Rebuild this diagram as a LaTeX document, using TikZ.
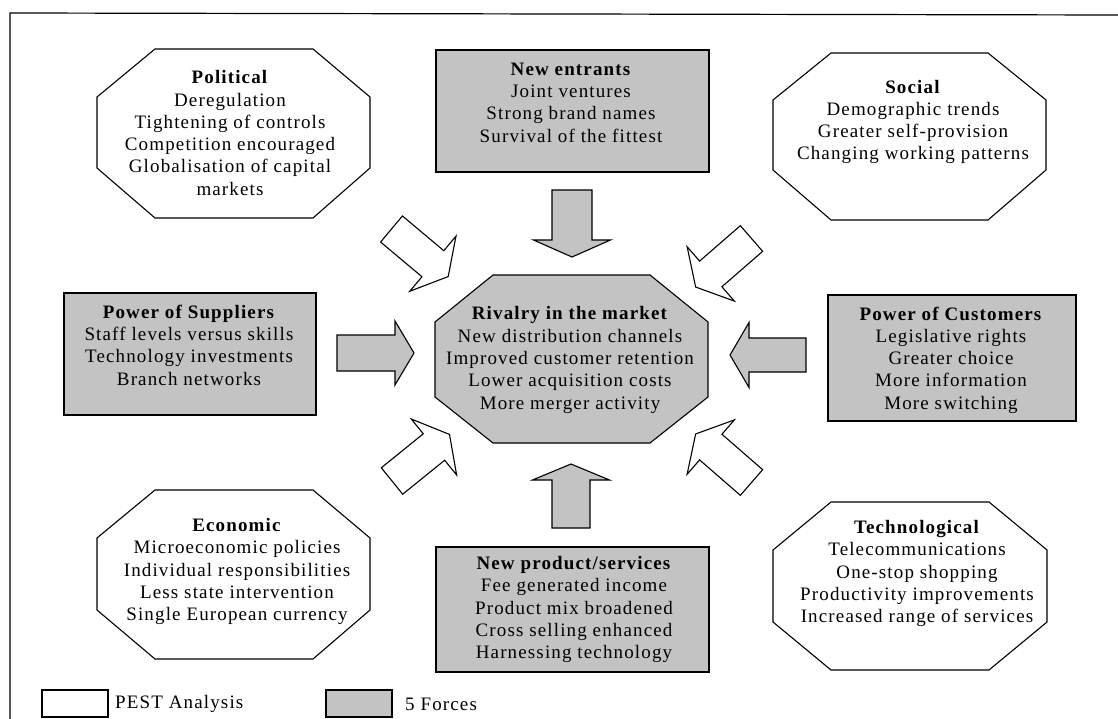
\documentclass[tikz,border=0pt]{standalone}
\usepackage{fontspec}
\setmainfont{Liberation Serif}[LetterSpace=6]
\definecolor{forcegray}{RGB}{195,195,195}
\tikzset{
  outline/.style={draw=black, line width=1.1pt, line join=miter},
  pest/.style={outline, fill=white},
  force/.style={outline, fill=forcegray},
  txt/.style={align=center, inner sep=0pt, font=\fontsize{19}{22.3}\selectfont},
  boxnode/.style={rectangle, inner sep=0pt},
}
\newcommand\barrow[7]{%
  \draw[#1,shift={(#2)},rotate=#3] (0,-#5) -- (#4,-#5) -- (#4,-#6) -- ({#4+#7},0) -- (#4,#6) -- (#4,#5) -- (0,#5) -- cycle;}
\begin{document}
\begin{tikzpicture}[x=1pt,y=-1pt]
\useasboundingbox (0,0) rectangle (1118,719);
% frame
\coordinate (fTR) at (1118,15);
\coordinate (fTL) at (10,13);
\coordinate (fBL) at (10,719);
\draw[line width=1.2pt] (fTR) -- (fTL) -- (fBL);

% PEST octagons
\draw[pest] (155,49) -- (313,49) -- (370,97) -- (370,168) -- (313,218) -- (155,218) -- (97,168) -- (97,97) -- cycle;
\draw[pest] (831,53) -- (988,53) -- (1046,100) -- (1046,170) -- (988,220) -- (831,220) -- (773,170) -- (773,100) -- cycle;
\draw[pest] (155,490) -- (313,490) -- (370,538) -- (370,610) -- (313,659) -- (155,659) -- (97,610) -- (97,538) -- cycle;
\draw[pest] (831,502) -- (989,502) -- (1047,550) -- (1047,622) -- (989,670) -- (831,670) -- (773,622) -- (773,550) -- cycle;
% central octagon
\draw[force] (493,275) -- (650,275) -- (708,322) -- (708,397) -- (650,443) -- (493,443) -- (435,397) -- (435,322) -- cycle;

% 5 forces boxes
\node[force, boxnode, minimum width=273, minimum height=122] (newentbox) at (572.5,111) {};
\node[force, boxnode, minimum width=252, minimum height=122] (supbox) at (190,354) {};
\node[force, boxnode, minimum width=248, minimum height=126] (custbox) at (952,358) {};
\node[force, boxnode, minimum width=273, minimum height=125] (prodbox) at (572.5,609.5) {};

% texts
\node[txt] (political) at (230,133) {\textbf{Political}\\Deregulation\\Tightening of controls\\Competition encouraged\\Globalisation of capital\\markets};
\node[txt] (newent) at (571,102.5) {\textbf{New entrants}\\Joint ventures\\Strong brand names\\Survival of the fittest};
\node[txt] (social) at (913,122) {\textbf{Social}\\Demographic trends\\Greater self-provision\\Changing working patterns};
\node[txt] (suppliers) at (189,345) {\textbf{Power of Suppliers}\\Staff levels versus skills\\Technology investments\\Branch networks};
\node[txt] (rivalry) at (570,360) {\textbf{Rivalry in the market}\\New distribution channels\\Improved customer retention\\Lower acquisition costs\\More merger activity};
\node[txt] (customers) at (951,360) {\textbf{Power of Customers}\\Legislative rights\\Greater choice\\More information\\More switching};
\node[txt] (economic) at (237,571.5) {\textbf{Economic}\\Microeconomic policies\\Individual responsibilities\\Less state intervention\\Single European currency};
\node[txt] (technological) at (917,573.5) {\textbf{Technological}\\Telecommunications\\One-stop shopping\\Productivity improvements\\Increased range of services};
\node[txt] (newprod) at (574,609.5) {\textbf{New product/services}\\Fee generated income\\Product mix broadened\\Cross selling enhanced\\Harnessing technology};

% block arrows
\coordinate (tTop) at (572,190);
\coordinate (tBot) at (571,528);
\coordinate (tLeft) at (337,353);
\coordinate (tRight) at (806,355);
\coordinate (tTL) at (391.5,229);
\coordinate (tTR) at (751.5,238.5);
\coordinate (tBL) at (392,481);
\coordinate (tBR) at (751.5,482.5);
\barrow{force}{tTop}{-90}{50}{20}{38.5}{17}
\barrow{force}{tBot}{90}{48}{19}{38.5}{16}
\barrow{force}{tLeft}{0}{58}{18}{32}{19}
\barrow{force}{tRight}{180}{57}{17}{32.5}{19}
\barrow{pest}{tTL}{-40}{54}{17}{36}{20}
\barrow{pest}{tTR}{-139}{54}{17}{36}{20}
\barrow{pest}{tBL}{39}{54}{17}{36}{20}
\barrow{pest}{tBR}{139}{54}{17}{36}{20}

% legend
\node[pest, boxnode, minimum width=66, minimum height=27] (legpest) at (75,703.5) {};
\node[force, boxnode, minimum width=66, minimum height=27] (legforce) at (359,703.5) {};
\node[txt, anchor=west] (pestlbl) at (115,704) {PEST Analysis};
\node[txt, anchor=west] (forceslbl) at (405,704) {5 Forces};
\end{tikzpicture}
\end{document}
